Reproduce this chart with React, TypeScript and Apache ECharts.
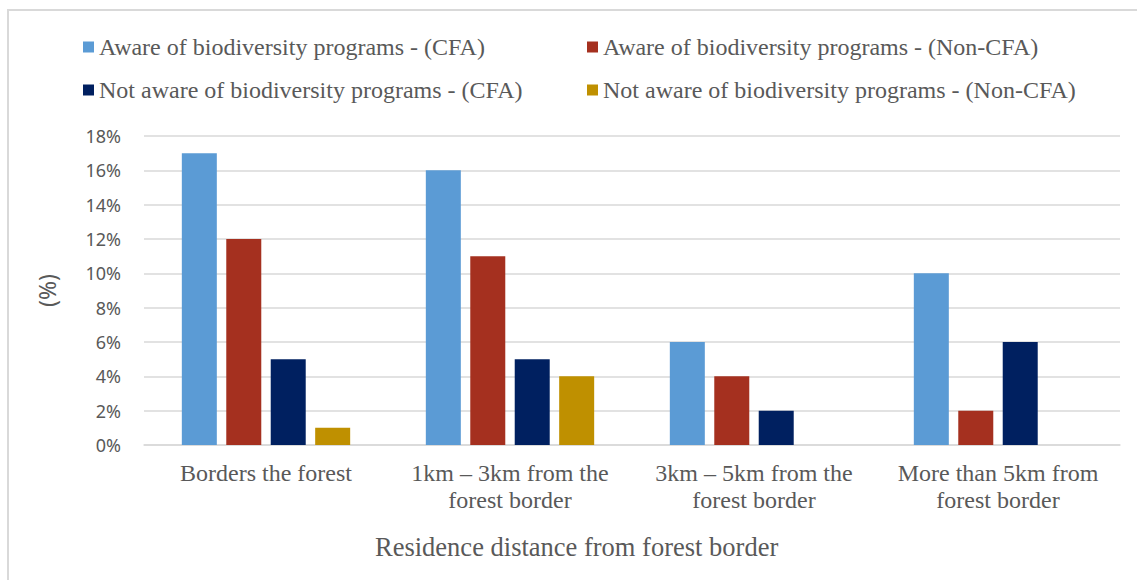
import React, { useEffect, useRef } from "react";
import * as echarts from "echarts";

// Residence distance groups (x-axis categories)
const categories = [
  "Borders the forest",
  "1km – 3km from the\nforest border",
  "3km – 5km from the\nforest border",
  "More than 5km from\nforest border",
];

// Share of respondents (%) per group
const awareCFA = [17, 16, 6, 10];
const awareNonCFA = [12, 11, 4, 2];
const notAwareCFA = [5, 5, 2, 6];
const notAwareNonCFA = [1, 4, 0, 0];

const seriesNames = [
  "Aware of biodiversity programs - (CFA)",
  "Aware of biodiversity programs - (Non-CFA)",
  "Not aware of biodiversity programs - (CFA)",
  "Not aware of biodiversity programs - (Non-CFA)",
];
const seriesValues = [awareCFA, awareNonCFA, notAwareCFA, notAwareNonCFA];
const seriesColors = ["#5B9BD5", "#A5301F", "#002060", "#BF9000"];

const yTicks = { min: 0, max: 18, interval: 2 };

const SERIF = '"Liberation Serif", "Times New Roman", serif';
const SANS = '"Noto Sans", "Liberation Sans", sans-serif';
const TEXT = "#595959";
const GRIDLINE = "#d9d9d9";

// legend slots laid out as a 2x2 table
const legendSlots = [
  { left: 83, top: 35 },
  { left: 587, top: 35 },
  { left: 83, top: 78 },
  { left: 587, top: 78 },
];

export default function App() {
  const ref = useRef<HTMLDivElement>(null);

  useEffect(() => {
    if (!ref.current) return;
    const chart = echarts.init(ref.current, null, { renderer: "svg" });

    chart.setOption({
      animation: false,
      backgroundColor: "#ffffff",
      legend: seriesNames.map((name, i) => ({
        data: [name],
        left: legendSlots[i].left,
        top: legendSlots[i].top,
        padding: 0,
        itemWidth: 11,
        itemHeight: 11,
        icon: "rect",
        selectedMode: false,
        textStyle: { fontFamily: SERIF, fontSize: 24, color: TEXT },
      })),
      grid: {
        left: 144,
        right: 17,
        top: 136,
        bottom: 135,
        containLabel: false,
        outerBoundsMode: "none",
      },
      xAxis: {
        type: "category",
        data: categories,
        axisLine: { lineStyle: { color: GRIDLINE, width: 1.5 } },
        axisTick: { show: false },
        axisLabel: {
          interval: 0,
          margin: 14,
          fontFamily: SERIF,
          fontSize: 24,
          lineHeight: 27,
          color: TEXT,
          align: "center",
        },
      },
      yAxis: {
        type: "value",
        min: yTicks.min,
        max: yTicks.max,
        interval: yTicks.interval,
        name: "(%)",
        nameLocation: "middle",
        nameGap: 86,
        nameTextStyle: { fontFamily: SANS, fontSize: 23, color: TEXT },
        axisLine: { show: false },
        axisTick: { show: false },
        axisLabel: {
          formatter: "{value}%",
          margin: 23,
          fontFamily: SANS,
          fontSize: 18,
          color: TEXT,
        },
        splitLine: { lineStyle: { color: GRIDLINE, width: 1.5 } },
      },
      series: seriesNames.map((name, i) => ({
        name,
        type: "bar",
        data: seriesValues[i],
        barWidth: 35,
        barGap: "27%",
        itemStyle: { color: seriesColors[i] },
      })),
      graphic: [
        {
          type: "polyline",
          silent: true,
          shape: { points: [[8, 580], [8, 10], [1137, 10]] },
          style: { stroke: GRIDLINE, lineWidth: 2, fill: "none" },
        },
        {
          type: "text",
          left: 375,
          top: 533,
          style: {
            text: "Residence distance from forest border",
            font: `26.5px ${SERIF}`,
            fill: TEXT,
          },
        },
      ],
    });

    return () => chart.dispose();
  }, []);

  return (
    <div
      ref={ref}
      style={{ position: "fixed", left: 0, top: 0, width: 1137, height: 580 }}
    />
  );
}
